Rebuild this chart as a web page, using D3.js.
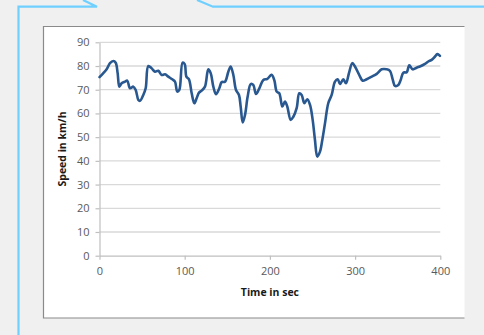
<!DOCTYPE html>
<html>
<head>
<meta charset="utf-8">
<script src="https://cdn.jsdelivr.net/npm/d3@7"></script>
<style>
  html, body { margin: 0; padding: 0; background: #f0f0f0; }
  svg { display: block; }
  text { font-family: "Open Sans", "Liberation Sans", sans-serif; }
</style>
</head>
<body>
<svg id="chart" width="484" height="335"></svg>
<script>
// Speed trace over a 400 s drive
const timeSec = [0, 4.5, 8.4, 12.3, 16.2, 19, 21.3, 23.3, 26, 30, 32.6, 35.8, 39.7, 42.5, 45.6, 47.5,
  51.4, 54.2, 57.3, 61.3, 65.1, 69, 73, 76.9, 80.8, 85.4, 88.6, 91.3, 93.7, 97.5, 100, 102,
  105, 108.2, 111.3, 114, 116.8, 119.9, 123.8, 127.7, 130.5, 133.6, 136.7, 140.6, 143.4, 147.3,
  151.2, 154, 157.1, 160.2, 163.7, 165.7, 168.1, 170.8, 173.9, 177.5, 180.5, 183.7, 187.6,
  192.3, 197, 202, 205.2, 208, 211, 214.6, 217.7, 220.4, 224.4, 227.5, 231.4, 234.5, 237.3,
  240.4, 243.9, 247.1, 250.2, 252.9, 255.6, 258.8, 261.5, 264.7, 268.5, 272.5, 276.4, 279.6,
  282.3, 286.2, 289.3, 292.8, 296.7, 300, 303.8, 305.8, 308.9, 313.6, 319.5, 325.4, 331.2,
  337.1, 341, 344.1, 346.8, 350.7, 353.5, 356.6, 360.6, 363.6, 367.6, 372.3, 377.3, 382,
  385.9, 389.9, 393.8, 396.5, 399.6];
const speedKmh = [75.3, 77, 78.6, 81.2, 82.1, 81.4, 77, 71.3, 72.7, 73.4, 73.8, 70.6, 71.3, 69.9, 65.7, 65.3,
  67.8, 70.6, 80, 79, 77.6, 78, 76.2, 76.5, 75.5, 74.4, 73.4, 69.2, 69.9, 81.4, 80.8, 75.5,
  74.4, 68.5, 64.3, 66.4, 68.8, 69.6, 71.3, 78.6, 77, 71.3, 68.1, 70.6, 73.2, 73.4,
  77.6, 79.8, 76.2, 69.9, 67.8, 62.9, 56.2, 59.4, 67.1, 72.4, 72, 68.2, 70.6,
  74.1, 74.6, 76.3, 74, 69.2, 68.5, 62.9, 65, 62.9, 57.3, 58.6, 62.2, 68.5, 67.8,
  64.3, 66, 63.6, 57.3, 48.8, 41.8, 43.9, 48.8, 55.9, 64.3, 67.8, 73.4, 74.4,
  72.4, 74.4, 72.7, 77, 81.2, 79.7, 77, 75.5, 73.8, 74.4, 75.5, 76.7, 78.6,
  78.6, 77.9, 74.4, 71.6, 72, 74.1, 77.2, 77.4, 80.3, 78.6, 79.3, 80, 80.9,
  81.9, 82.6, 84, 85, 84.3];
const xTicks = [0, 100, 200, 300, 400];
const yTicks = [0, 10, 20, 30, 40, 50, 60, 70, 80, 90];
const xTitle = "Time in sec";
const yTitle = "Speed in km/h";

const svg = d3.select("#chart");

// decorative callout outline behind the chart
svg.append("path")
  .attr("d", "M18.5,335 V6.7 H97 L83,0 M197,0 L213,6.7 H484")
  .attr("fill", "none")
  .attr("stroke", "#6fd0ff")
  .attr("stroke-width", 2.2);

// chart frame
svg.append("rect")
  .attr("x", 43.5).attr("y", 26.5).attr("width", 421).attr("height", 291.5)
  .attr("fill", "#ffffff");
svg.append("path")
  .attr("d", "M464.5,26.5 H43.5 V318 H464.5")
  .attr("fill", "none")
  .attr("stroke", "#8a8a8a")
  .attr("stroke-width", 1.2);

const x = d3.scaleLinear().domain([0, 400]).range([99.5, 440.3]);
const y = d3.scaleLinear().domain([0, 90]).range([255.7, 42.3]);

// horizontal gridlines
svg.append("g")
  .selectAll("line")
  .data(yTicks.filter(d => d > 0))
  .join("line")
  .attr("x1", x(0)).attr("x2", x(400))
  .attr("y1", d => y(d)).attr("y2", d => y(d))
  .attr("stroke", "#d9d9d9")
  .attr("stroke-width", 1.3);

// y axis
const yAxis = svg.append("g")
  .attr("transform", `translate(${x(0)},0)`)
  .call(d3.axisLeft(y).tickValues(yTicks).tickSize(4).tickSizeOuter(0).tickPadding(6));
yAxis.select(".domain").attr("stroke", "#bfbfbf").attr("stroke-width", 1.2);
yAxis.selectAll(".tick line").attr("stroke", "#bfbfbf").attr("stroke-width", 1.2);
yAxis.selectAll(".tick text")
  .attr("fill", "#595959")
  .attr("font-size", 11)
  .style("font-family", "'Open Sans', sans-serif");

// x axis
const xAxis = svg.append("g")
  .attr("transform", `translate(0,${y(0)})`)
  .call(d3.axisBottom(x).tickValues(xTicks).tickSize(4).tickSizeOuter(0).tickPadding(8));
xAxis.select(".domain").attr("stroke", "#bfbfbf").attr("stroke-width", 1.2);
xAxis.selectAll(".tick line").attr("stroke", "#bfbfbf").attr("stroke-width", 1.2);
xAxis.selectAll(".tick text")
  .attr("fill", "#595959")
  .attr("font-size", 11)
  .style("font-family", "'Open Sans', sans-serif");

// axis titles
svg.append("text")
  .attr("x", (x(0) + x(400)) / 2).attr("y", 296)
  .attr("text-anchor", "middle")
  .attr("font-size", 10.5).attr("font-weight", "bold")
  .attr("fill", "#1a1a1a")
  .text(xTitle);
svg.append("text")
  .attr("transform", `translate(66,${(y(0) + y(90)) / 2}) rotate(-90)`)
  .attr("text-anchor", "middle")
  .attr("font-size", 10.5).attr("font-weight", "bold")
  .attr("fill", "#1a1a1a")
  .text(yTitle);

// speed line
const points = timeSec.map((t, i) => [t, speedKmh[i]]);
svg.append("path")
  .datum(points)
  .attr("fill", "none")
  .attr("stroke", "#28588f")
  .attr("stroke-width", 2.6)
  .attr("stroke-linejoin", "round")
  .attr("stroke-linecap", "round")
  .attr("d", d3.line()
    .x(d => x(d[0]))
    .y(d => y(d[1]))
    .curve(d3.curveCatmullRom.alpha(0.5)));
</script>
</body>
</html>
